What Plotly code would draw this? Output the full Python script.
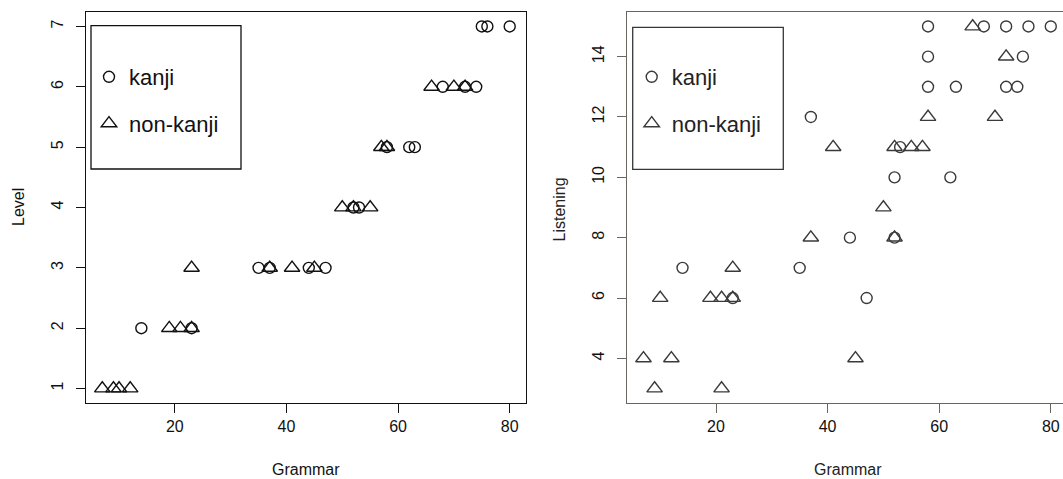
import plotly.graph_objects as go

W, H = 1063, 479

# ---- Data: left panel (Level vs Grammar)
kanji_lvl_grammar = [14, 23, 35, 37, 44, 47, 52, 53, 58, 62, 63, 68, 72, 74, 75, 76, 80]
kanji_level = [2, 2, 3, 3, 3, 3, 4, 4, 5, 5, 5, 6, 6, 6, 7, 7, 7]
nonkanji_lvl_grammar = [7, 9, 10, 12, 19, 21, 23, 23, 37, 41, 45, 50, 52, 55, 57, 58, 66, 70, 72]
nonkanji_level = [1, 1, 1, 1, 2, 2, 2, 3, 3, 3, 3, 4, 4, 4, 5, 5, 6, 6, 6]

# ---- Data: right panel (Listening vs Grammar)
kanji_lis_grammar = [14, 23, 35, 37, 44, 47, 52, 52, 53, 58, 58, 58, 62, 63, 68, 72, 72, 74, 75, 76, 80]
kanji_listening = [7, 6, 7, 12, 8, 6, 8, 10, 11, 15, 14, 13, 10, 13, 15, 15, 13, 13, 14, 15, 15]
nonkanji_lis_grammar = [7, 9, 10, 12, 19, 21, 21, 23, 23, 37, 41, 45, 50, 52, 52, 55, 57, 58, 66, 70, 72]
nonkanji_listening = [4, 3, 6, 4, 6, 6, 3, 6, 7, 8, 11, 4, 9, 8, 11, 11, 11, 12, 15, 12, 14]

x_ticks = [20, 40, 60, 80]
level_ticks = [1, 2, 3, 4, 5, 6, 7]
listen_ticks = [4, 6, 8, 10, 12, 14]

FONT = "Liberation Sans, Arial, Helvetica, sans-serif"


def px(x):
    return x / W


def py(y):
    return 1 - y / H


LEFT_COL = "#111111"
RIGHT_COL = "#3a3a3a"
RIGHT_AXIS = "#6b655f"

fig = go.Figure()

circ = dict(symbol="circle-open", size=11, line=dict(width=1.4))
tri = dict(symbol="triangle-up-open", size=13.5, line=dict(width=1.4))

fig.add_trace(go.Scatter(x=kanji_lvl_grammar, y=kanji_level, mode="markers", name="kanji",
                         marker=dict(color=LEFT_COL, **circ), xaxis="x", yaxis="y",
                         legend="legend", legendgroup="a"))
fig.add_trace(go.Scatter(x=nonkanji_lvl_grammar, y=nonkanji_level, mode="markers", name="non-kanji",
                         marker=dict(color=LEFT_COL, **tri), xaxis="x", yaxis="y",
                         legend="legend", legendgroup="b"))
fig.add_trace(go.Scatter(x=kanji_lis_grammar, y=kanji_listening, mode="markers", name="kanji",
                         marker=dict(color=RIGHT_COL, **circ), xaxis="x2", yaxis="y2",
                         legend="legend2", legendgroup="c"))
fig.add_trace(go.Scatter(x=nonkanji_lis_grammar, y=nonkanji_listening, mode="markers", name="non-kanji",
                         marker=dict(color=RIGHT_COL, **tri), xaxis="x2", yaxis="y2",
                         legend="legend2", legendgroup="d"))

ydom = [py(403), py(12)]
LEFT_RANGE_X = [4.08, 82.92]
LEFT_RANGE_Y = [0.76, 7.24]
RIGHT_RANGE_X = [4.05, 82.19]
RIGHT_RANGE_Y = [2.52, 15.48]

axis_common = dict(showgrid=False, zeroline=False, showline=True, linewidth=1.3,
                   ticks="outside", ticklen=9, tickwidth=1.2,
                   tickfont=dict(family=FONT, size=16), fixedrange=True)
# label-only overlay y axes (so labels sit where R puts them)
label_axis = dict(showgrid=False, zeroline=False, showline=False, ticks="outside", ticklen=0,
                  ticklabelstandoff=16,
                  tickangle=-90, tickfont=dict(family=FONT, size=16), fixedrange=True)

fig.update_layout(
    width=W, height=H, autosize=False,
    margin=dict(l=0, r=0, t=0, b=0),
    paper_bgcolor="white", plot_bgcolor="white",
    font=dict(family=FONT, color="#111"),
    xaxis=dict(domain=[px(86), px(526)], range=LEFT_RANGE_X, tickvals=x_ticks, anchor="y",
               linecolor=LEFT_COL, tickcolor=LEFT_COL, mirror=True, **axis_common),
    yaxis=dict(domain=ydom, range=LEFT_RANGE_Y, tickvals=level_ticks, anchor="x",
               showticklabels=False,
               linecolor=LEFT_COL, tickcolor=LEFT_COL, mirror=True, **axis_common),
    yaxis3=dict(domain=ydom, range=LEFT_RANGE_Y, tickvals=level_ticks, anchor="x", overlaying="y",
                side="left", **label_axis),
    xaxis2=dict(domain=[px(627), 1.0], range=RIGHT_RANGE_X, tickvals=x_ticks, anchor="y2",
                linecolor=RIGHT_AXIS, tickcolor=RIGHT_AXIS, mirror=True, **axis_common),
    yaxis2=dict(domain=ydom, range=RIGHT_RANGE_Y, tickvals=listen_ticks, anchor="x2",
                showticklabels=False,
                linecolor=RIGHT_AXIS, tickcolor=RIGHT_AXIS, mirror=False, **axis_common),
    yaxis4=dict(domain=ydom, range=RIGHT_RANGE_Y, tickvals=listen_ticks, anchor="x2", overlaying="y2",
                side="left", **label_axis),
    legend=dict(x=px(89), y=py(56), xanchor="left", yanchor="top", bgcolor="rgba(0,0,0,0)",
                borderwidth=0, font=dict(family=FONT, size=22, color="#111"),
                traceorder="grouped", tracegroupgap=15, itemclick=False),
    legend2=dict(x=px(631.7), y=py(56), xanchor="left", yanchor="top", bgcolor="rgba(0,0,0,0)",
                 borderwidth=0, font=dict(family=FONT, size=22, color="#222"),
                 traceorder="grouped", tracegroupgap=15, itemclick=False),
    showlegend=True,
)

# invisible traces so the overlay label axes are drawn
fig.add_trace(go.Scatter(x=[None], y=[None], xaxis="x", yaxis="y3", showlegend=False, hoverinfo="skip"))
fig.add_trace(go.Scatter(x=[None], y=[None], xaxis="x2", yaxis="y4", showlegend=False, hoverinfo="skip"))

# legend frames
fig.add_shape(type="rect", xref="paper", yref="paper", x0=px(91), x1=px(241), y0=py(169), y1=py(25.7),
              line=dict(color=LEFT_COL, width=1.3))
fig.add_shape(type="rect", xref="paper", yref="paper", x0=px(632.7), x1=px(783.3), y0=py(169.3), y1=py(27.3),
              line=dict(color="#333838", width=1.3))

# axis titles
ann = dict(xref="paper", yref="paper", showarrow=False, xanchor="center", yanchor="middle", borderpad=0)
fig.add_annotation(text="Grammar", x=px(306), y=py(469), font=dict(family=FONT, size=16, color="#111"), **ann)
fig.add_annotation(text="Level", x=px(18.5), y=py(207.5), textangle=-90,
                   font=dict(family=FONT, size=16, color="#111"), **ann)
fig.add_annotation(text="Grammar", x=px(848), y=py(469), font=dict(family=FONT, size=16, color="#222"), **ann)
fig.add_annotation(text="Listening", x=px(559), y=py(209.5), textangle=-90,
                   font=dict(family=FONT, size=16, color="#222"), **ann)

fig.write_html("out.html")
